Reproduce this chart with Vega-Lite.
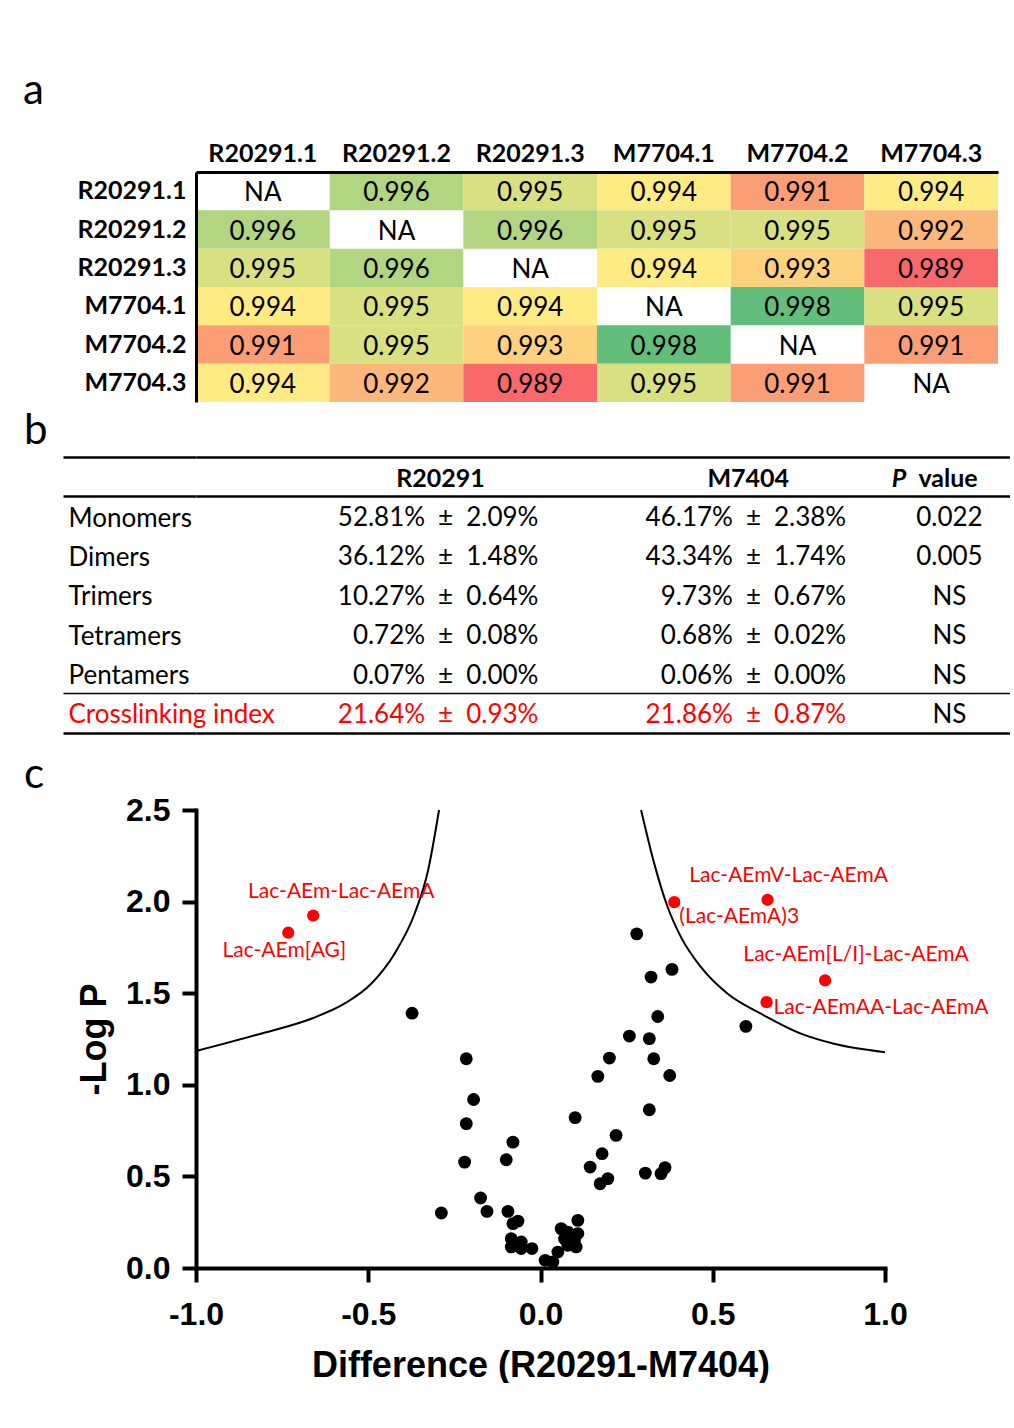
{
  "$schema": "https://vega.github.io/schema/vega-lite/v6.json",
  "padding": {"left": 23, "top": 70, "right": 0, "bottom": 0},
  "background": "white",
  "bounds": "flush",
  "spacing": 55,
  "config": {
    "view": {"stroke": null},
    "title": {"font": "Lato", "fontSize": 42, "fontWeight": "normal", "anchor": "start", "frame": "group", "color": "black", "baseline": "bottom"}
  },
  "datasets": {
    "heat": [
      {"r": "R20291.1", "c": "R20291.1", "v": null}, {"r": "R20291.1", "c": "R20291.2", "v": 0.996}, {"r": "R20291.1", "c": "R20291.3", "v": 0.995}, {"r": "R20291.1", "c": "M7704.1", "v": 0.994}, {"r": "R20291.1", "c": "M7704.2", "v": 0.991}, {"r": "R20291.1", "c": "M7704.3", "v": 0.994},
      {"r": "R20291.2", "c": "R20291.1", "v": 0.996}, {"r": "R20291.2", "c": "R20291.2", "v": null}, {"r": "R20291.2", "c": "R20291.3", "v": 0.996}, {"r": "R20291.2", "c": "M7704.1", "v": 0.995}, {"r": "R20291.2", "c": "M7704.2", "v": 0.995}, {"r": "R20291.2", "c": "M7704.3", "v": 0.992},
      {"r": "R20291.3", "c": "R20291.1", "v": 0.995}, {"r": "R20291.3", "c": "R20291.2", "v": 0.996}, {"r": "R20291.3", "c": "R20291.3", "v": null}, {"r": "R20291.3", "c": "M7704.1", "v": 0.994}, {"r": "R20291.3", "c": "M7704.2", "v": 0.993}, {"r": "R20291.3", "c": "M7704.3", "v": 0.989},
      {"r": "M7704.1", "c": "R20291.1", "v": 0.994}, {"r": "M7704.1", "c": "R20291.2", "v": 0.995}, {"r": "M7704.1", "c": "R20291.3", "v": 0.994}, {"r": "M7704.1", "c": "M7704.1", "v": null}, {"r": "M7704.1", "c": "M7704.2", "v": 0.998}, {"r": "M7704.1", "c": "M7704.3", "v": 0.995},
      {"r": "M7704.2", "c": "R20291.1", "v": 0.991}, {"r": "M7704.2", "c": "R20291.2", "v": 0.995}, {"r": "M7704.2", "c": "R20291.3", "v": 0.993}, {"r": "M7704.2", "c": "M7704.1", "v": 0.998}, {"r": "M7704.2", "c": "M7704.2", "v": null}, {"r": "M7704.2", "c": "M7704.3", "v": 0.991},
      {"r": "M7704.3", "c": "R20291.1", "v": 0.994}, {"r": "M7704.3", "c": "R20291.2", "v": 0.992}, {"r": "M7704.3", "c": "R20291.3", "v": 0.989}, {"r": "M7704.3", "c": "M7704.1", "v": 0.995}, {"r": "M7704.3", "c": "M7704.2", "v": 0.991}, {"r": "M7704.3", "c": "M7704.3", "v": null}
    ],
    "table": [
      {"row": "header", "col": "R20291", "t": "R20291"},
      {"row": "header", "col": "M7404", "t": "M7404"},
      {"row": "header", "col": "P value", "t": "value"},
      {"row": "Monomers", "col": "R20291", "t": "52.81%\u2002±\u20022.09%"},
      {"row": "Monomers", "col": "M7404", "t": "46.17%\u2002±\u20022.38%"},
      {"row": "Monomers", "col": "P value", "t": "0.022"},
      {"row": "Dimers", "col": "R20291", "t": "36.12%\u2002±\u20021.48%"},
      {"row": "Dimers", "col": "M7404", "t": "43.34%\u2002±\u20021.74%"},
      {"row": "Dimers", "col": "P value", "t": "0.005"},
      {"row": "Trimers", "col": "R20291", "t": "10.27%\u2002±\u20020.64%"},
      {"row": "Trimers", "col": "M7404", "t": "9.73%\u2002±\u20020.67%"},
      {"row": "Trimers", "col": "P value", "t": "NS"},
      {"row": "Tetramers", "col": "R20291", "t": "0.72%\u2002±\u20020.08%"},
      {"row": "Tetramers", "col": "M7404", "t": "0.68%\u2002±\u20020.02%"},
      {"row": "Tetramers", "col": "P value", "t": "NS"},
      {"row": "Pentamers", "col": "R20291", "t": "0.07%\u2002±\u20020.00%"},
      {"row": "Pentamers", "col": "M7404", "t": "0.06%\u2002±\u20020.00%"},
      {"row": "Pentamers", "col": "P value", "t": "NS"},
      {"row": "Crosslinking index", "col": "R20291", "t": "21.64%\u2002±\u20020.93%"},
      {"row": "Crosslinking index", "col": "M7404", "t": "21.86%\u2002±\u20020.87%"},
      {"row": "Crosslinking index", "col": "P value", "t": "NS"}
    ],
    "curves": [
      {"side": "L", "x": -1.0, "y": 1.184}, {"side": "L", "x": -0.8096, "y": 1.28}, {"side": "L", "x": -0.6638, "y": 1.362}, {"side": "L", "x": -0.5681, "y": 1.444}, {"side": "L", "x": -0.4907, "y": 1.553}, {"side": "L", "x": -0.4232, "y": 1.717}, {"side": "L", "x": -0.3652, "y": 1.935}, {"side": "L", "x": -0.3264, "y": 2.17}, {"side": "L", "x": -0.2945, "y": 2.5},
      {"side": "R", "x": 0.2919, "y": 2.5}, {"side": "R", "x": 0.3304, "y": 2.206}, {"side": "R", "x": 0.3693, "y": 1.969}, {"side": "R", "x": 0.4078, "y": 1.806}, {"side": "R", "x": 0.4658, "y": 1.642}, {"side": "R", "x": 0.5432, "y": 1.497}, {"side": "R", "x": 0.64, "y": 1.388}, {"side": "R", "x": 0.756, "y": 1.279}, {"side": "R", "x": 0.852, "y": 1.224}, {"side": "R", "x": 1.0, "y": 1.178}
    ],
    "pts": [
      {"x": -0.3728, "y": 1.391}, {"x": -0.2154, "y": 1.142}, {"x": -0.1942, "y": 0.92}, {"x": -0.2154, "y": 0.788}, {"x": -0.2203, "y": 0.578},
      {"x": -0.08, "y": 0.687}, {"x": -0.0994, "y": 0.591}, {"x": -0.1739, "y": 0.382}, {"x": -0.2878, "y": 0.3}, {"x": -0.1554, "y": 0.309},
      {"x": -0.0945, "y": 0.309}, {"x": -0.0655, "y": 0.256}, {"x": -0.08, "y": 0.242}, {"x": -0.0849, "y": 0.16}, {"x": -0.0559, "y": 0.142},
      {"x": -0.0849, "y": 0.115}, {"x": -0.0559, "y": 0.106}, {"x": -0.0249, "y": 0.106}, {"x": 0.0136, "y": 0.042}, {"x": 0.0359, "y": 0.033},
      {"x": 0.0504, "y": 0.087}, {"x": 0.06, "y": 0.215}, {"x": 0.0794, "y": 0.196}, {"x": 0.1084, "y": 0.26}, {"x": 0.1084, "y": 0.188},
      {"x": 0.0696, "y": 0.16}, {"x": 0.0986, "y": 0.151}, {"x": 0.1035, "y": 0.115}, {"x": 0.0794, "y": 0.124}, {"x": 0.1006, "y": 0.821},
      {"x": 0.1441, "y": 0.551}, {"x": 0.173, "y": 0.46}, {"x": 0.1954, "y": 0.488}, {"x": 0.1788, "y": 0.624}, {"x": 0.2194, "y": 0.724},
      {"x": 0.1664, "y": 1.046}, {"x": 0.2, "y": 1.146}, {"x": 0.258, "y": 1.266}, {"x": 0.3159, "y": 1.252}, {"x": 0.3287, "y": 1.142},
      {"x": 0.3403, "y": 1.373}, {"x": 0.3751, "y": 1.051}, {"x": 0.3159, "y": 0.864}, {"x": 0.3043, "y": 0.518}, {"x": 0.3499, "y": 0.515},
      {"x": 0.3614, "y": 0.548}, {"x": 0.3209, "y": 1.588}, {"x": 0.3817, "y": 1.63}, {"x": 0.2794, "y": 1.824}, {"x": 0.5962, "y": 1.319}
    ],
    "sig": [
      {"x": -0.7322, "y": 1.83, "label": "Lac-AEm[AG]"},
      {"x": -0.6597, "y": 1.924, "label": "Lac-AEm-Lac-AEmA"},
      {"x": 0.3884, "y": 1.997, "label": "(Lac-AEmA)3"},
      {"x": 0.6591, "y": 2.01, "label": "Lac-AEmV-Lac-AEmA"},
      {"x": 0.8261, "y": 1.57, "label": "Lac-AEm[L/I]-Lac-AEmA"},
      {"x": 0.6562, "y": 1.451, "label": "Lac-AEmAA-Lac-AEmA"}
    ]
  },
  "vconcat": [
    {
      "width": 802,
      "height": 230,
      "title": {"text": "a", "dx": -173, "offset": 28},
      "data": {"name": "heat"},
      "encoding": {
        "x": {
          "field": "c", "type": "nominal",
          "scale": {"domain": ["R20291.1", "R20291.2", "R20291.3", "M7704.1", "M7704.2", "M7704.3"], "paddingInner": 0, "paddingOuter": 0},
          "axis": {"orient": "top", "title": null, "labelAngle": 0, "labelFont": "Lato", "labelFontSize": 25, "labelFontWeight": "bold", "labelColor": "black", "labelPadding": 6, "ticks": false, "tickSize": 0, "domainColor": "black", "domainWidth": 3, "labelLimit": 400, "zindex": 1}
        },
        "y": {
          "field": "r", "type": "nominal",
          "scale": {"domain": ["R20291.1", "R20291.2", "R20291.3", "M7704.1", "M7704.2", "M7704.3"], "paddingInner": 0, "paddingOuter": 0},
          "axis": {"orient": "left", "title": null, "labelFont": "Lato", "labelFontSize": 25, "labelFontWeight": "bold", "labelColor": "black", "labelPadding": 10, "ticks": false, "tickSize": 0, "domainColor": "black", "domainWidth": 3, "labelLimit": 400, "zindex": 1}
        }
      },
      "layer": [
        {
          "transform": [{"filter": "datum.v != null"}],
          "mark": {"type": "rect"},
          "encoding": {
            "color": {"field": "v", "type": "quantitative", "scale": {"domain": [0.989, 0.994, 0.998], "range": ["#F8696B", "#FFEB84", "#63BE7B"], "interpolate": "rgb"}, "legend": null}
          }
        },
        {
          "mark": {"type": "text", "font": "Lato", "fontSize": 26, "color": "black", "dy": 2},
          "encoding": {
            "text": {"condition": {"test": "datum.v == null", "value": "NA"}, "field": "v", "type": "quantitative", "format": ".3f"}
          }
        }
      ]
    },
    {
      "width": 814,
      "height": 298,
      "title": {"text": "b", "dx": -172, "offset": -9},
      "data": {"name": "table"},
      "encoding": {
        "x": {
          "field": "col", "type": "nominal",
          "scale": {"type": "point", "domain": ["d0", "d1", "R20291", "g1", "g2", "M7404", "g3", "P value"], "padding": 0.467, "align": 0.378},
          "axis": null
        },
        "y": {
          "field": "row", "type": "nominal",
          "scale": {"domain": ["header", "Monomers", "Dimers", "Trimers", "Tetramers", "Pentamers", "Crosslinking index"], "paddingInner": 0, "paddingOuter": 0.2846, "align": 0},
          "axis": {
            "orient": "left", "title": null, "domain": false,
            "ticks": true, "tickBand": "extent", "tickSize": 133, "tickColor": "black",
            "tickWidth": {"condition": {"test": "datum.value === 'Pentamers'", "value": 1.3}, "value": 2.4},
            "tickOpacity": {"condition": {"test": "datum.extra || datum.value === 'header' || datum.value === 'Pentamers' || datum.value === 'Crosslinking index'", "value": 1}, "value": 0},
            "grid": true, "gridColor": "black",
            "gridWidth": {"condition": {"test": "datum.value === 'Pentamers'", "value": 1.3}, "value": 2.4},
            "gridOpacity": {"condition": {"test": "datum.extra || datum.value === 'header' || datum.value === 'Pentamers' || datum.value === 'Crosslinking index'", "value": 1}, "value": 0},
            "labelAlign": "left", "labelPadding": -5, "labelOffset": 2,
            "labelFont": "Lato", "labelFontSize": 26, "labelLimit": 400,
            "labelColor": {"condition": {"test": "datum.value === 'Crosslinking index'", "value": "#FF0000"}, "value": "black"},
            "labelExpr": "datum.value === 'header' ? '' : datum.value"
          }
        }
      },
      "layer": [
        {
          "transform": [{"filter": "datum.row === 'header' && datum.col !== 'P value'"}],
          "mark": {"type": "text", "font": "Lato", "fontSize": 25, "fontWeight": "bold", "color": "black", "align": "center", "dx": 3, "dy": 2},
          "encoding": {"text": {"field": "t"}}
        },
        {
          "transform": [{"filter": "datum.row === 'header' && datum.col === 'P value'"}],
          "mark": {"type": "text", "font": "Lato", "fontSize": 25, "fontWeight": "bold", "fontStyle": "italic", "color": "black", "align": "right", "dx": -44, "dy": 2},
          "encoding": {"text": {"value": "P"}}
        },
        {
          "transform": [{"filter": "datum.row === 'header' && datum.col === 'P value'"}],
          "mark": {"type": "text", "font": "Lato", "fontSize": 25, "fontWeight": "bold", "color": "black", "align": "left", "dx": -32, "dy": 2},
          "encoding": {"text": {"field": "t"}}
        },
        {
          "transform": [{"filter": "datum.row !== 'header' && datum.col !== 'P value'"}],
          "mark": {"type": "text", "font": "Lato", "fontSize": 26, "align": "right", "dx": 101, "dy": 2},
          "encoding": {
            "text": {"field": "t"},
            "color": {"condition": {"test": "datum.row === 'Crosslinking index'", "value": "#FF0000"}, "value": "black"}
          }
        },
        {
          "transform": [{"filter": "datum.row !== 'header' && datum.col === 'P value'"}],
          "mark": {"type": "text", "font": "Lato", "fontSize": 26, "align": "center", "dx": -1, "dy": 2},
          "encoding": {
            "text": {"field": "t"},
            "color": {"value": "black"}
          }
        }
      ]
    },
    {
      "width": 689,
      "height": 458,
      "title": {"text": "c", "dx": -172, "offset": -3},
      "encoding": {
        "x": {
          "field": "x", "type": "quantitative",
          "scale": {"domain": [-1, 1], "nice": false, "zero": false},
          "axis": {
            "values": [-1, -0.5, 0, 0.5, 1],
            "labelExpr": "datum.value < 0 ? '-' + format(-datum.value, '.1f') : format(datum.value, '.1f')",
            "title": "Difference (R20291-M7404)", "titleFont": "Liberation Sans", "titleFontSize": 36, "titleFontWeight": "bold", "titleColor": "black", "titlePadding": 18,
            "labelFont": "Liberation Sans", "labelFontSize": 32, "labelFontWeight": "bold", "labelColor": "black", "labelPadding": 17, "labelFlush": false, "labelOverlap": false,
            "tickSize": 14, "tickWidth": 4, "tickColor": "black", "domainWidth": 4, "domainColor": "black", "domainCap": "square", "grid": false
          }
        },
        "y": {
          "field": "y", "type": "quantitative",
          "scale": {"domain": [0, 2.5], "nice": false, "zero": false},
          "axis": {
            "values": [0, 0.5, 1, 1.5, 2, 2.5],
            "labelExpr": "format(datum.value, '.1f')",
            "title": "-Log P", "titleFont": "Liberation Sans", "titleFontSize": 36, "titleFontWeight": "bold", "titleColor": "black", "titlePadding": 12,
            "labelFont": "Liberation Sans", "labelFontSize": 32, "labelFontWeight": "bold", "labelColor": "black", "labelPadding": 12, "labelFlush": false, "labelOverlap": false,
            "tickSize": 14, "tickWidth": 4, "tickColor": "black", "domainWidth": 4, "domainColor": "black", "domainCap": "square", "grid": false
          }
        }
      },
      "layer": [
        {
          "data": {"name": "curves"},
          "mark": {"type": "line", "color": "black", "strokeWidth": 2, "interpolate": "monotone"},
          "encoding": {"detail": {"field": "side", "type": "nominal"}}
        },
        {
          "data": {"name": "pts"},
          "mark": {"type": "circle", "size": 165, "color": "black", "opacity": 1}
        },
        {
          "data": {"name": "sig"},
          "mark": {"type": "circle", "size": 150, "color": "#FF0000", "opacity": 1}
        },
        {
          "data": {"name": "sig"},
          "transform": [{"filter": "datum.label === 'Lac-AEm-Lac-AEmA'"}],
          "mark": {"type": "text", "font": "Lato", "fontSize": 21, "color": "#FF0000", "align": "center", "baseline": "middle", "dx": 28, "dy": -24},
          "encoding": {"text": {"field": "label"}}
        },
        {
          "data": {"name": "sig"},
          "transform": [{"filter": "datum.label === 'Lac-AEm[AG]'"}],
          "mark": {"type": "text", "font": "Lato", "fontSize": 21, "color": "#FF0000", "align": "center", "baseline": "middle", "dx": -4, "dy": 18},
          "encoding": {"text": {"field": "label"}}
        },
        {
          "data": {"name": "sig"},
          "transform": [{"filter": "datum.label === 'Lac-AEmV-Lac-AEmA'"}],
          "mark": {"type": "text", "font": "Lato", "fontSize": 21, "color": "#FF0000", "align": "center", "baseline": "middle", "dx": 21, "dy": -24},
          "encoding": {"text": {"field": "label"}}
        },
        {
          "data": {"name": "sig"},
          "transform": [{"filter": "datum.label === '(Lac-AEmA)3'"}],
          "mark": {"type": "text", "font": "Lato", "fontSize": 21, "color": "#FF0000", "align": "left", "baseline": "middle", "dx": 5, "dy": 15},
          "encoding": {"text": {"field": "label"}}
        },
        {
          "data": {"name": "sig"},
          "transform": [{"filter": "datum.label === 'Lac-AEm[L/I]-Lac-AEmA'"}],
          "mark": {"type": "text", "font": "Lato", "fontSize": 21, "color": "#FF0000", "align": "center", "baseline": "middle", "dx": 31, "dy": -25},
          "encoding": {"text": {"field": "label"}}
        },
        {
          "data": {"name": "sig"},
          "transform": [{"filter": "datum.label === 'Lac-AEmAA-Lac-AEmA'"}],
          "mark": {"type": "text", "font": "Lato", "fontSize": 21, "color": "#FF0000", "align": "left", "baseline": "middle", "dx": 7, "dy": 6},
          "encoding": {"text": {"field": "label"}}
        }
      ]
    }
  ]
}
